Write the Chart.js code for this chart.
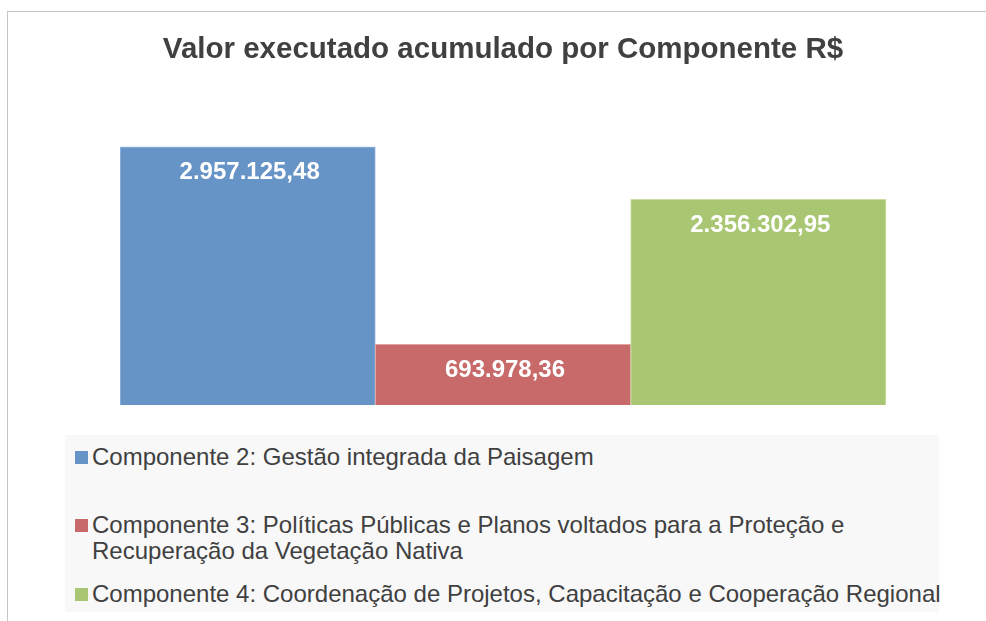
<!DOCTYPE html>
<html>
<head>
<meta charset="utf-8">
<script src="https://cdn.jsdelivr.net/npm/chart.js@4/dist/chart.umd.min.js"></script>
<style>
  html, body { margin: 0; padding: 0; background: #ffffff; overflow: hidden; width: 986px; height: 621px; }
  #frame { position: absolute; left: 7px; top: 11px; width: 1100px; height: 700px; border-left: 1px solid #c4c4c4; border-top: 1px solid #c4c4c4; }
  #wrap { position: absolute; left: 0; top: 0; width: 1008px; height: 430px; }
  #legend { position: absolute; left: 65px; top: 435px; width: 874px; height: 177px; background: #f8f8f8; font-family: "Liberation Sans", Arial, sans-serif; font-size: 24px; color: #404040; }
  .item { position: absolute; left: 10px; display: flex; align-items: flex-start; line-height: 26px; }
  .sw { width: 13px; height: 13px; margin-top: 7px; margin-right: 4px; flex: none; }
  .txt { width: 872px; }
</style>
</head>
<body>
<div id="frame"></div>
<div id="wrap"><canvas id="c"></canvas></div>
<div id="legend"></div>
<script>
const chartTitle = "Valor executado acumulado por Componente R$";
const categories = [
  "Componente 2: Gestão integrada da Paisagem",
  "Componente 3: Políticas Públicas e Planos voltados para a Proteção e Recuperação da Vegetação Nativa",
  "Componente 4: Coordenação de Projetos, Capacitação e Cooperação Regional"
];
const values = [2957125.48, 693978.36, 2356302.95];
const barColors = ["#6794C6", "#C8696A", "#A9C673"];
const barBorders = ["#9DBAE0", "#E3A3A3", "#C9DDA5"];

function fmtBR(v) {
  const parts = v.toFixed(2).split(".");
  const intPart = parts[0].replace(/\B(?=(\d{3})+(?!\d))/g, ".");
  return intPart + "," + parts[1];
}

const labelPlugin = {
  id: "barLabels",
  afterDatasetsDraw(chart) {
    const ctx = chart.ctx;
    const meta = chart.getDatasetMeta(0);
    ctx.save();
    ctx.fillStyle = "#ffffff";
    ctx.font = "bold 24px 'Liberation Sans', Arial, sans-serif";
    ctx.textAlign = "center";
    ctx.textBaseline = "middle";
    meta.data.forEach((bar, i) => {
      ctx.fillText(fmtBR(values[i]), bar.x + 2, bar.y + 26);
    });
    ctx.restore();
  }
};

new Chart(document.getElementById("c"), {
  type: "bar",
  data: {
    labels: categories,
    datasets: [{
      data: values,
      backgroundColor: barColors,
      borderColor: barBorders,
      borderWidth: 1,
      barPercentage: 1,
      categoryPercentage: 1
    }]
  },
  options: {
    responsive: true,
    maintainAspectRatio: false,
    animation: false,
    layout: { padding: { left: 120, right: 122, top: 0, bottom: 25 } },
    plugins: {
      legend: { display: false },
      tooltip: { enabled: false },
      title: {
        display: true,
        text: chartTitle,
        color: "#404040",
        font: { family: "'Liberation Sans', Arial, sans-serif", size: 29.5, weight: "bold" },
        padding: { top: 32, bottom: 32 }
      }
    },
    scales: {
      x: { display: false },
      y: { display: false, min: 0, max: 3500000 }
    }
  },
  plugins: [labelPlugin]
});

const legend = document.getElementById("legend");
const itemTops = [9, 77, 146];
categories.forEach((name, i) => {
  const it = document.createElement("div");
  it.className = "item";
  it.style.top = itemTops[i] + "px";
  const sw = document.createElement("div");
  sw.className = "sw";
  sw.style.background = barColors[i];
  const tx = document.createElement("div");
  tx.className = "txt";
  tx.textContent = name;
  it.appendChild(sw);
  it.appendChild(tx);
  legend.appendChild(it);
});
</script>
</body>
</html>
